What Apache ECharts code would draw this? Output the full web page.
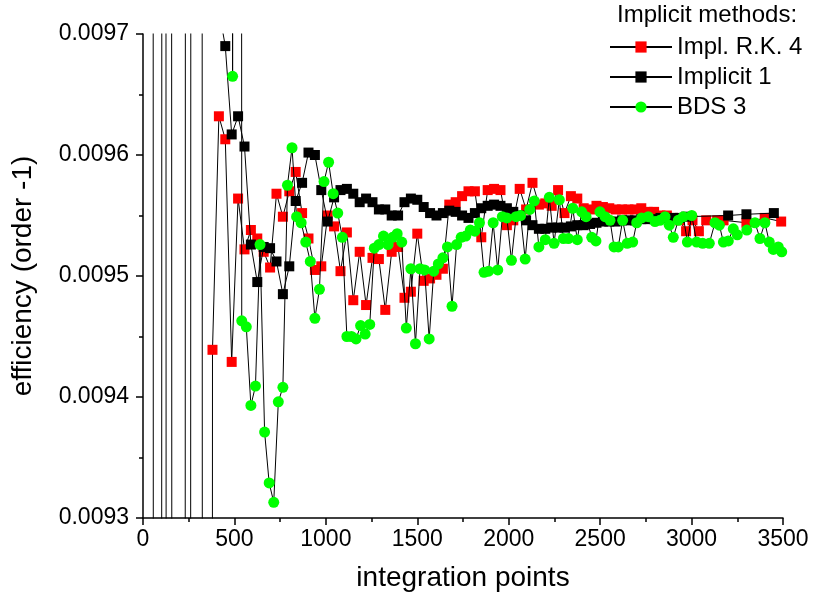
<!DOCTYPE html>
<html>
<head>
<meta charset="utf-8">
<script src="https://cdn.jsdelivr.net/npm/echarts@6/dist/echarts.min.js"></script>
<style>html,body{margin:0;padding:0;background:#fff}#c{width:813px;height:601px}</style>
</head>
<body>
<div id="c"></div>
<script>
// x ticks / y ticks
const xTicks = [0, 500, 1000, 1500, 2000, 2500, 3000, 3500];
const yTicks = [0.0093, 0.0094, 0.0095, 0.0096, 0.0097];

// Impl. R.K. 4 (red squares); values below x=380 are far off-scale (only their connecting lines show)
const rkX = [30,65,100,135,170,205,240,275,310,345,380,415,450,485,520,555,590,625,660,695,730,765,800,835,870,905,940,975,1010,1045,1080,1115,1150,1185,1220,1255,1290,1325,1360,1395,1430,1465,1500,1535,1570,1605,1640,1675,1710,1745,1780,1815,1850,1885,1920,1955,1990,2025,2060,2095,2130,2165,2200,2235,2270,2305,2340,2375,2410,2445,2480,2515,2550,2585,2620,2655,2690,2725,2760,2795,2830,2865,2900,2935,2970,3005,3040,3080,3140,3175,3300,3400,3490];
const rkY = [0.0221,0.0221,0.0221,0.0221,0.0021,0.0021,-0.0025,0.0175,0.0175,-0.0025,
0.009439,0.009632,0.009613,0.009429,0.009564,0.009522,0.009538,0.009531,0.009520,0.009507,
0.009568,0.009549,0.009570,0.009586,0.009552,0.009531,0.009505,0.009508,0.009550,0.009541,
0.009504,0.009536,0.009480,0.009520,0.009476,0.009515,0.009514,0.009472,0.009520,0.009524,
0.009482,0.009487,0.009535,0.009496,0.009498,0.009501,0.009506,0.009559,0.009561,0.009566,
0.009570,0.009570,0.009532,0.009571,0.009572,0.009571,0.009542,0.009546,0.009572,0.009555,
0.009577,0.009559,0.009560,0.009558,0.009571,0.009552,0.009566,0.009564,0.009556,0.009555,
0.009558,0.009557,0.009556,0.009555,0.009555,0.009555,0.009555,0.009556,0.009553,0.009553,
0.009550,0.009550,0.009548,0.009546,0.009537,0.009546,0.009537,0.009546,0.009546,0.009546,
0.009544,0.009548,0.009545];

// Implicit 1 (black squares)
const imX = [30,65,100,135,170,205,240,275,310,345,380,415,450,485,520,555,590,625,660,695,730,765,800,835,870,905,940,975,1010,1045,1080,1115,1150,1185,1220,1255,1290,1325,1360,1395,1430,1465,1500,1535,1570,1605,1640,1675,1710,1745,1780,1815,1850,1885,1920,1955,1990,2025,2060,2095,2130,2165,2200,2235,2270,2305,2340,2375,2410,2445,2480,2515,2550,2585,2620,2655,2690,2725,2760,2795,2830,2865,2900,2935,2970,3200,3300,3450];
const imY = [0.0195,0.0195,0.0244,0.0044,-0.0055,-0.0055,0.0145,0.0195,0.0195,0.0195,0.0195,0.00972,
0.009690,0.009617,0.009632,0.009607,0.009526,0.009495,0.009524,0.009523,0.009512,0.009485,
0.009508,0.009562,0.009577,0.009602,0.009600,0.009571,0.009545,0.009565,0.009571,0.009572,
0.009568,0.009561,0.009564,0.009561,0.009555,0.009555,0.009550,0.009550,0.009561,0.009564,
0.009563,0.009557,0.009552,0.009550,0.009552,0.009554,0.009553,0.009550,0.009548,0.009552,
0.009556,0.009558,0.009559,0.009558,0.009556,0.009553,0.009550,0.009546,0.009542,0.009539,
0.009539,0.009540,0.009540,0.009540,0.009541,0.009542,0.009542,0.009543,0.009544,0.009545,
0.009545,0.009545,0.009546,0.009546,0.009546,0.009547,0.009547,0.009547,0.009548,0.009548,
0.009548,0.009548,0.009549,0.009550,0.009551,0.009552];

// BDS 3 (green circles)
const bdsX = [15,40,65,90,115,140,165,190,215,240,265,290,315,340,365,390,415,440,465,490,515,540,565,590,615,640,665,690,715,740,765,790,815,840,865,890,915,940,965,990,1015,1040,1065,1090,1115,1140,1165,1190,1215,1240,1265,1290,1315,1340,1365,1390,1415,1440,1465,1490,1515,1540,1565,1590,1615,1640,1665,1690,1715,1740,1765,1790,1815,1840,1865,1890,1915,1940,1965,1990,2015,2040,2065,2090,2115,2140,2165,2200,2222,2248,2277,2299,2326,2350,2375,2399,2423,2454,2477,2499,2527,2554,2576,2599,2623,2648,2678,2700,2727,2763,2800,2827,2855,2878,2900,2927,2955,2977,3001,3028,3061,3097,3128,3152,3174,3201,3228,3250,3302,3347,3374,3401,3425,3447,3474,3493];
const bdsY = [0.0223,0.0223,0.0023,-0.0005,0.0195,0.0195,0.0195,0.0195,0.0195,0.0195,0.0195,0.0195,0.0195,0.0195,0.0195,0.0195,0.0195,0.0195,0.0195,
0.009665,0.0195,0.009463,0.009458,0.009393,0.009409,0.009526,0.009371,0.009329,0.009313,
0.009396,0.009408,0.009575,0.009606,0.009549,0.009544,0.009528,0.009512,0.009465,0.009489,
0.009578,0.009594,0.009568,0.009552,0.009532,0.009450,0.009450,0.009448,0.009459,0.009452,
0.009460,0.009523,0.009526,0.009533,0.009526,0.009532,0.009535,0.009528,0.009457,0.009506,
0.009444,0.009506,0.009505,0.009448,0.009504,0.009510,0.009515,0.009524,0.009475,0.009526,
0.009532,0.009533,0.009538,0.009537,0.009544,0.009503,0.009504,0.009544,0.009505,0.009549,
0.009548,0.009513,0.009549,0.009550,0.009514,0.009555,0.009562,0.009524,
0.009530,0.009565,0.009527,0.009563,0.009531,0.009531,0.009556,0.009530,0.009553,0.009549,
0.009532,0.009529,0.009553,0.009549,0.009546,0.009524,0.009524,0.009546,0.009527,0.009528,
0.009544,0.009548,0.009549,0.009545,0.009546,0.009549,0.009542,0.009532,0.009546,0.009549,
0.009528,0.009550,0.009528,0.009527,0.009527,0.009544,0.009542,0.009528,0.009529,0.009539,
0.009534,0.009538,0.009544,0.009531,0.009544,0.009528,0.009522,0.009524,0.009520];

const FONT = 'Liberation Sans, Arial, sans-serif';
function pairs(xs, ys) { return xs.map((x, i) => [x, ys[i]]); }

const chart = echarts.init(document.getElementById('c'), null, {renderer: 'canvas'});
const lineStyle = {color: '#000', width: 1};
chart.setOption({
  animation: false,
  backgroundColor: '#fff',
  title: {
    text: 'Implicit methods:', left: 617, top: 3, padding: 0,
    textStyle: {fontFamily: FONT, fontSize: 24, fontWeight: 'normal', color: '#000'}
  },
  legend: {
    orient: 'vertical', left: 609, top: 35, padding: 0, itemGap: 6,
    itemWidth: 62, itemHeight: 14,
    textStyle: {fontFamily: FONT, fontSize: 24, color: '#000'},
    data: ['Impl. R.K. 4', 'Implicit 1', 'BDS 3']
  },
  grid: {left: 143, right: 30, top: 34, bottom: 83, containLabel: false},
  xAxis: {
    type: 'value', min: xTicks[0], max: xTicks[xTicks.length - 1], interval: 500,
    name: 'integration points', nameLocation: 'middle', nameGap: 46,
    nameTextStyle: {fontFamily: FONT, fontSize: 28, color: '#000'},
    axisLine: {show: true, lineStyle: {color: '#000', width: 1.5}},
    axisTick: {show: true, length: 7, lineStyle: {color: '#000', width: 1.5}},
    minorTick: {show: true, splitNumber: 2, length: 4, lineStyle: {color: '#000', width: 1.5}},
    splitLine: {show: false},
    axisLabel: {fontFamily: FONT, fontSize: 23, color: '#000', margin: 10,
      formatter: v => String(Math.round(v))}
  },
  yAxis: {
    type: 'value', min: yTicks[0], max: yTicks[yTicks.length - 1], interval: 0.0001,
    name: 'efficiency (order -1)', nameLocation: 'middle', nameGap: 106,
    nameTextStyle: {fontFamily: FONT, fontSize: 28, color: '#000'},
    axisLine: {show: true, lineStyle: {color: '#000', width: 1.5}},
    axisTick: {show: true, length: 7, lineStyle: {color: '#000', width: 1.5}},
    minorTick: {show: true, splitNumber: 2, length: 4, lineStyle: {color: '#000', width: 1.5}},
    splitLine: {show: false},
    axisLabel: {fontFamily: FONT, fontSize: 23, color: '#000', margin: 14,
      formatter: v => v.toFixed(4)}
  },
  series: [
    {name: 'Impl. R.K. 4', type: 'line', data: pairs(rkX, rkY), symbol: 'rect', symbolSize: 10,
     showAllSymbol: true, clip: true, lineStyle: lineStyle, itemStyle: {color: '#ff0000'}, z: 2},
    {name: 'Implicit 1', type: 'line', data: pairs(imX, imY), symbol: 'rect', symbolSize: 10,
     showAllSymbol: true, clip: true, lineStyle: lineStyle, itemStyle: {color: '#000000'}, z: 3},
    {name: 'BDS 3', type: 'line', data: pairs(bdsX, bdsY), symbol: 'circle', symbolSize: 11,
     showAllSymbol: true, clip: true, lineStyle: lineStyle, itemStyle: {color: '#00ff00'}, z: 4}
  ]
});
</script>
</body>
</html>
